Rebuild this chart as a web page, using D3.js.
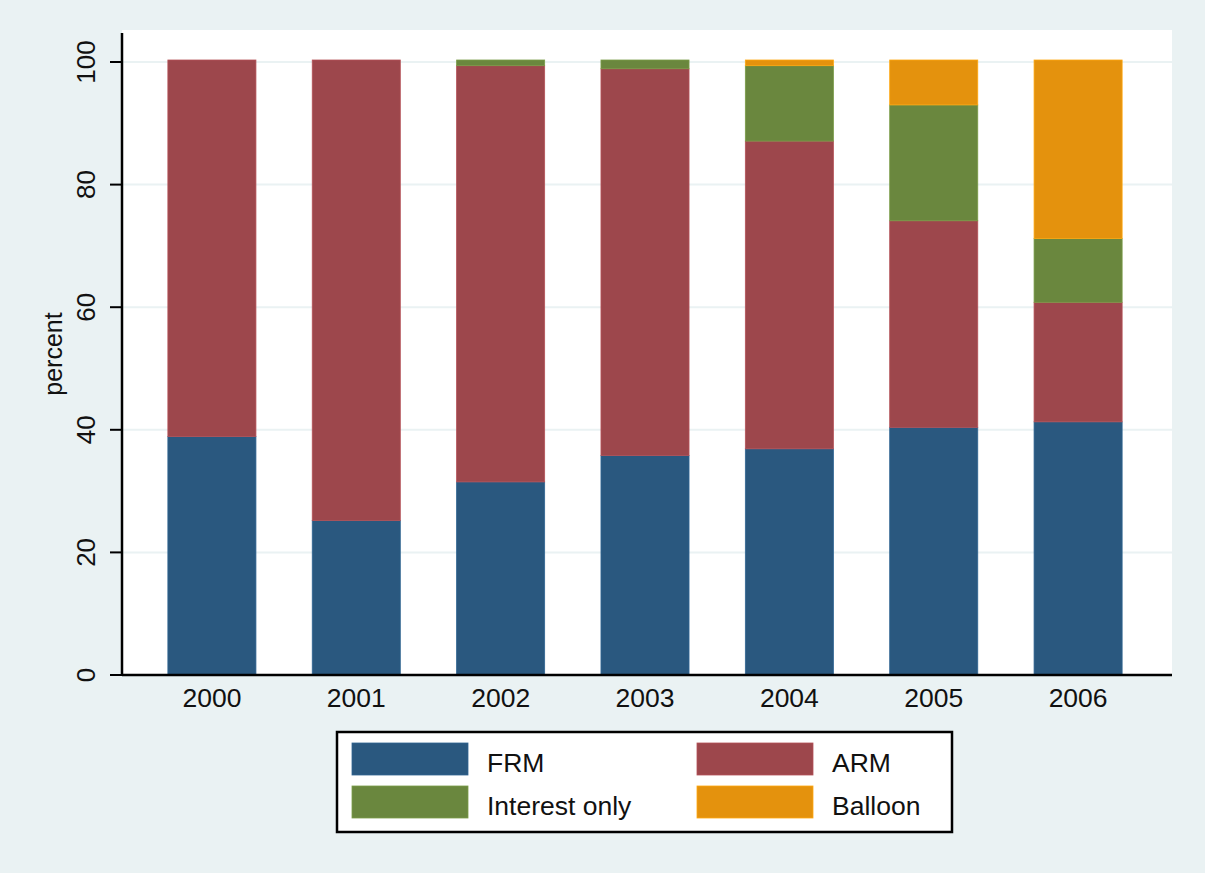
<!DOCTYPE html>
<html><head><meta charset="utf-8">
<script src="https://cdn.jsdelivr.net/npm/d3@7"></script>
<style>html,body{margin:0;padding:0;background:#fff}svg{display:block}</style>
</head><body>
<svg id="c" width="1205" height="873"></svg>
<script>
const years = ["2000","2001","2002","2003","2004","2005","2006"];
const seriesNames = ["FRM","ARM","Interest only","Balloon"];
const FRM = [38.9, 25.2, 31.5, 35.8, 36.9, 40.4, 41.3];
const ARM = [61.1, 74.8, 67.9, 63.1, 50.2, 33.7, 19.5];
const InterestOnly = [0, 0, 0.6, 1.1, 12.3, 18.9, 10.4];
const Balloon = [0, 0, 0, 0, 0.6, 7.0, 28.8];
const yTicks = [0, 20, 40, 60, 80, 100];
const colors = ["#2a587f", "#9d474c", "#6a873e", "#e4920d"];
const FONT = "Liberation Sans, Arial, Helvetica, sans-serif";

const svg = d3.select("#c");
const W = 1205, H = 873;
svg.append("rect").attr("width", W).attr("height", H).attr("fill", "#eaf2f3");

const m = {left: 122, right: 1172, top: 30, bottom: 675};
svg.append("rect").attr("x", m.left).attr("y", m.top)
  .attr("width", m.right - m.left).attr("height", m.bottom - m.top).attr("fill", "#fff");

const y = d3.scaleLinear().domain([0, 100]).range([675, 62]);
const x = d3.scaleBand().domain(years).range([m.left + 17, m.right - 21]).paddingInner(0.39).paddingOuter(0.2);

// gridlines
svg.append("g").selectAll("line").data(yTicks.filter(d => d > 0)).join("line")
  .attr("x1", m.left).attr("x2", m.right)
  .attr("y1", d => y(d)).attr("y2", d => y(d))
  .attr("stroke", "#eaf2f3").attr("stroke-width", 2);

const rows = years.map((yr, i) => ({year: yr, FRM: FRM[i], ARM: ARM[i], "Interest only": InterestOnly[i], Balloon: Balloon[i]}));
const stack = d3.stack().keys(seriesNames)(rows);

svg.append("g").selectAll("g").data(stack).join("g")
  .attr("fill", (d, i) => colors[i])
  .attr("stroke", (d, i) => d3.color(colors[i]).brighter(0.4))
  .attr("stroke-width", 0.8)
  .selectAll("rect").data(d => d.filter(p => p[1] - p[0] > 0)).join("rect")
  .attr("x", d => x(d.data.year))
  .attr("width", x.bandwidth())
  .attr("y", d => y(d[1]) - (d[1] >= 99.99 ? 2 : 0))
  .attr("height", d => Math.max(0, y(d[0]) - y(d[1])) + (d[1] >= 99.99 ? 2 : 0));

// y axis
const yAxis = svg.append("g").attr("transform", `translate(${m.left},0)`)
  .call(d3.axisLeft(y).tickValues(yTicks).tickSize(12).tickPadding(8));
yAxis.select(".domain").attr("d", `M0,${m.top + 3}V${m.bottom}`).attr("stroke", "#000").attr("stroke-width", 2.5);
yAxis.selectAll(".tick").attr("transform", "translate(0,0)");
yAxis.selectAll(".tick line").attr("stroke", "#000").attr("stroke-width", 2)
  .attr("y1", d => y(d)).attr("y2", d => y(d));
yAxis.selectAll(".tick text")
  .attr("font-family", FONT).attr("font-size", 26).attr("fill", "#111")
  .attr("transform", "rotate(-90)").attr("text-anchor", "middle")
  .attr("x", d => -y(d)).attr("y", -27).attr("dy", 0);

// x axis
const xAxis = svg.append("g").attr("transform", `translate(0,${m.bottom})`)
  .call(d3.axisBottom(x).tickSize(0).tickPadding(0));
xAxis.select(".domain").attr("d", `M${m.left},0H${m.right}`).attr("stroke", "#000").attr("stroke-width", 2.5);
xAxis.selectAll(".tick text")
  .attr("font-family", FONT).attr("font-size", 26.5).attr("fill", "#111")
  .attr("y", 32).attr("dy", 0);

// y label
svg.append("text").attr("transform", "translate(62,354) rotate(-90)")
  .attr("text-anchor", "middle").attr("font-family", FONT)
  .attr("font-size", 25).attr("fill", "#111").text("percent");

// legend
const lg = svg.append("g");
lg.append("rect").attr("x", 337).attr("y", 732).attr("width", 615).attr("height", 100)
  .attr("fill", "#fff").attr("stroke", "#000").attr("stroke-width", 2.5);
const legPos = [[352, 743], [697, 743], [352, 786], [697, 786]];
seriesNames.forEach((s, i) => {
  const [lx, ly] = legPos[i];
  lg.append("rect").attr("x", lx).attr("y", ly).attr("width", 116).attr("height", 32)
    .attr("fill", colors[i]).attr("stroke", d3.color(colors[i]).brighter(0.4)).attr("stroke-width", 0.8);
  lg.append("text").attr("x", lx + 135).attr("y", ly + 29)
    .attr("font-family", FONT).attr("font-size", 26.5).attr("fill", "#111").text(s);
});
</script>
</body></html>
